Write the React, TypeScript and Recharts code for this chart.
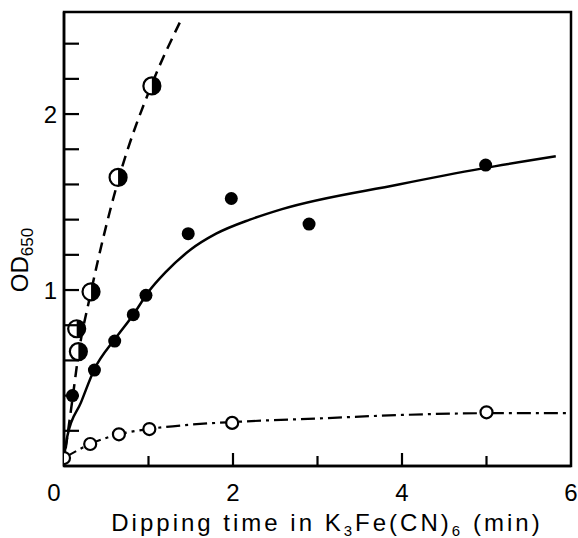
import { ComposedChart, Line, Scatter, XAxis, YAxis, Label, ReferenceArea } from 'recharts'

// half-filled circles (dashed curve)
const halfX = [0.15, 0.17, 0.32, 0.64, 1.04]
const halfY = [0.78, 0.65, 0.99, 1.64, 2.16]

// filled circles (solid curve)
const filledX = [0.1, 0.36, 0.6, 0.82, 0.97, 1.47, 1.98, 2.9, 4.99]
const filledY = [0.4, 0.545, 0.71, 0.86, 0.97, 1.32, 1.52, 1.375, 1.71]

// open circles (dash-dot curve)
const openX = [0, 0.31, 0.65, 1.01, 1.99, 5.0]
const openY = [0.045, 0.125, 0.18, 0.21, 0.245, 0.305]

// hand drawn fitted curves
const dashedCurveX = [0.02, 0.1, 0.17, 0.32, 0.64, 1.04, 1.37]
const dashedCurveY = [0.1, 0.38, 0.63, 0.99, 1.62, 2.17, 2.52]
const solidCurveX = [0, 0.04, 0.2, 0.36, 0.6, 0.82, 1.0, 1.2, 1.5, 1.8, 2.2, 2.58, 3.96, 4.94, 5.82]
const solidCurveY = [0.05, 0.17, 0.36, 0.55, 0.72, 0.86, 0.99, 1.1, 1.23, 1.32, 1.4, 1.46, 1.6, 1.69, 1.76]
const dashDotCurveX = [0, 0.31, 0.65, 1.0, 1.5, 2.0, 3.0, 4.0, 5.0, 5.95]
const dashDotCurveY = [0.045, 0.125, 0.18, 0.21, 0.235, 0.25, 0.27, 0.29, 0.3, 0.3]

const xTicks = [0, 1, 2, 3, 4, 5, 6]
const xLabels = [0, 2, 4, 6]
const yTicks = [0.2, 0.4, 0.6, 0.8, 1, 1.2, 1.4, 1.6, 1.8, 2, 2.2, 2.4]
const yLabels = [1, 2]

const zip = (xs: number[], ys: number[]) => xs.map((x, i) => ({ x, y: ys[i] }))

const FONT = '"Liberation Sans", Arial, sans-serif'

const FilledDot = ({ cx, cy }: any) => <circle cx={cx} cy={cy} r={6.5} fill="#000" />
const OpenDot = ({ cx, cy }: any) => (
  <circle cx={cx} cy={cy} r={6} fill="#fff" stroke="#000" strokeWidth={2.2} />
)
const HalfDot = ({ cx, cy }: any) => {
  const r = 8.5
  return (
    <g>
      <circle cx={cx} cy={cy} r={r} fill="#fff" stroke="#000" strokeWidth={2.2} />
      <path d={`M${cx},${cy - r} A${r},${r} 0 0 1 ${cx},${cy + r} Z`} fill="#000" />
    </g>
  )
}

const XTick = ({ x, y, payload }: any) => {
  const v = payload.value
  const inner = v === 0 || v === 6
  const len = v % 2 === 0 ? 13 : 10
  return (
    <g>
      {!inner && <line x1={x} y1={y} x2={x} y2={y - len} stroke="#000" strokeWidth={2.2} />}
      {xLabels.includes(v) && (
        <text x={v === 0 ? x - 10 : x} y={y + 35} textAnchor="middle" fontSize={24} fontFamily={FONT} fill="#000">
          {v}
        </text>
      )}
    </g>
  )
}

const YTick = ({ x, y, payload }: any) => {
  const v = payload.value
  return (
    <g>
      <line x1={x} y1={y} x2={x + 15} y2={y} stroke="#000" strokeWidth={2.2} />
      {yLabels.includes(v) && (
        <text x={x - 7} y={y + 9} textAnchor="end" fontSize={24} fontFamily={FONT} fill="#000">
          {v}
        </text>
      )}
    </g>
  )
}

const XTitle = () => (
  <text x={327} y={531} textAnchor="middle" fontSize={24} fontFamily={FONT} letterSpacing={3} fill="#000">
    Dipping time in K
    <tspan fontSize={15} dy={5}>3</tspan>
    <tspan dy={-5}>Fe(CN)</tspan>
    <tspan fontSize={15} dy={5}>6</tspan>
    <tspan dy={-5} dx={10}>(min)</tspan>
  </text>
)

const YTitle = () => (
  <text
    x={28}
    y={260}
    transform="rotate(-90 28 260)"
    textAnchor="middle"
    fontSize={24}
    fontFamily={FONT}
    fill="#000"
  >
    OD
    <tspan fontSize={17} dy={5}>650</tspan>
  </text>
)

export default function App() {
  return (
    <div style={{ position: 'absolute', left: 0, top: 0, width: 578, height: 538, background: '#fff' }}>
      <ComposedChart width={578} height={538} margin={{ top: 12, right: 7, left: 0, bottom: 0 }}>
        <XAxis
          dataKey="x"
          type="number"
          domain={[0, 6]}
          ticks={xTicks}
          interval={0}
          tickLine={false}
          tickSize={0}
          tickMargin={0}
          tick={<XTick />}
          axisLine={{ stroke: '#000', strokeWidth: 2.5 }}
          height={72}
          allowDataOverflow
        >
          <Label content={<XTitle />} />
        </XAxis>
        <YAxis
          type="number"
          domain={[0, 2.58]}
          ticks={yTicks}
          interval={0}
          tickLine={false}
          tickSize={0}
          tickMargin={0}
          tick={<YTick />}
          axisLine={{ stroke: '#000', strokeWidth: 2.5 }}
          width={64}
          allowDataOverflow
        >
          <Label content={<YTitle />} />
        </YAxis>

        <ReferenceArea x1={0} x2={6} y1={0} y2={2.58} fill="none" stroke="#000" strokeWidth={2.5} ifOverflow="visible" />

        <Line data={zip(dashedCurveX, dashedCurveY)} dataKey="y" type="monotone" stroke="#000" strokeWidth={2.5} strokeDasharray="11 7" dot={false} isAnimationActive={false} />
        <Line data={zip(solidCurveX, solidCurveY)} dataKey="y" type="monotone" stroke="#000" strokeWidth={2.5} dot={false} isAnimationActive={false} />
        <Line data={zip(dashDotCurveX, dashDotCurveY)} dataKey="y" type="monotone" stroke="#000" strokeWidth={2.2} strokeDasharray="14 5 3 5" dot={false} isAnimationActive={false} />

        <Scatter data={zip(openX, openY)} dataKey="y" shape={<OpenDot />} isAnimationActive={false} />
        <Scatter data={zip(filledX, filledY)} dataKey="y" shape={<FilledDot />} isAnimationActive={false} />
        <Scatter data={zip(halfX, halfY)} dataKey="y" shape={<HalfDot />} isAnimationActive={false} />
      </ComposedChart>
    </div>
  )
}
